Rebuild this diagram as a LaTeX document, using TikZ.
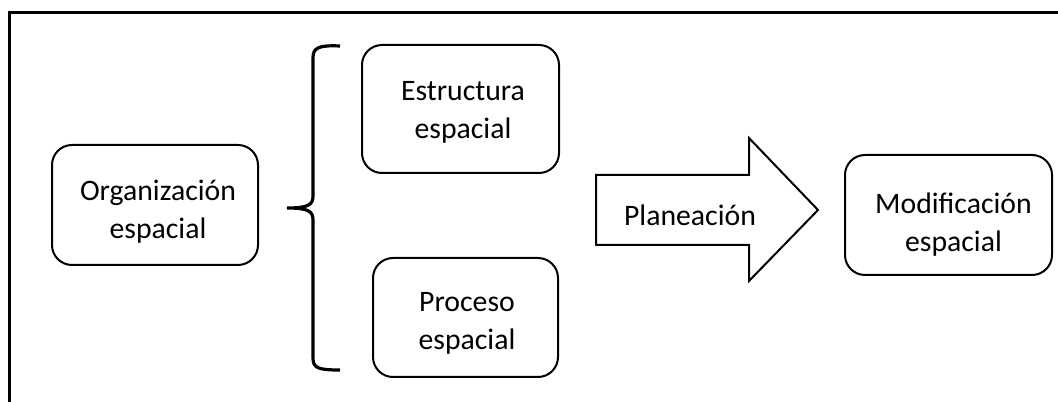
\documentclass[tikz,border=0pt]{standalone}
\usepackage{fontspec}
\setmainfont{Carlito}
\begin{document}
\begin{tikzpicture}[x=0.75pt,y=-0.75pt,
  box/.style={draw=black, line width=1.5pt, rounded corners=15pt, inner sep=0pt},
  lbl/.style={align=center, font=\fontsize{22.3}{28.5}\selectfont, inner sep=0pt}]
\useasboundingbox (0,0) rectangle (1058,402);
% frame
\draw[line width=2.25pt] (1058,13) -- (9,13) -- (9,402);
% boxes
\node[box, minimum width=206*0.75pt, minimum height=120*0.75pt] (org) at (155,205) {};
\node[box, minimum width=197*0.75pt, minimum height=128*0.75pt] (est) at (460.5,109) {};
\node[box, minimum width=185*0.75pt, minimum height=119*0.75pt] (pro) at (465.5,317.5) {};
\node[box, minimum width=207*0.75pt, minimum height=120*0.75pt] (mod) at (948.5,215) {};
\node[lbl] (orgT) at (158,211.5) {Organización\\espacial};
\node[lbl] (estT) at (463,112.5) {Estructura\\espacial};
\node[lbl] (proT) at (467,323.5) {Proceso\\espacial};
\node[lbl] (modT) at (953.5,225) {Modificación\\espacial};
% brace
\coordinate (bt) at (340,46);
\coordinate (bb) at (340,370);
\coordinate (bm) at (287,208);
\draw[line width=2.4pt] (bt) .. controls (318,45) and (313,48) .. (313,58) -- (313,196)
  .. controls (313,205) and (308,208) .. (bm)
  .. controls (308,208) and (313,211) .. (313,220) -- (313,358)
  .. controls (313,368) and (318,370) .. (bb);
% block arrow
\draw[line width=1.5pt, line join=miter] (596,175) -- (749,175) -- (749,138) -- (818,210) -- (749,281) -- (749,245) -- (596,245) -- cycle;
\node[lbl] (plan) at (690,215) {Planeación};
\end{tikzpicture}
\end{document}
